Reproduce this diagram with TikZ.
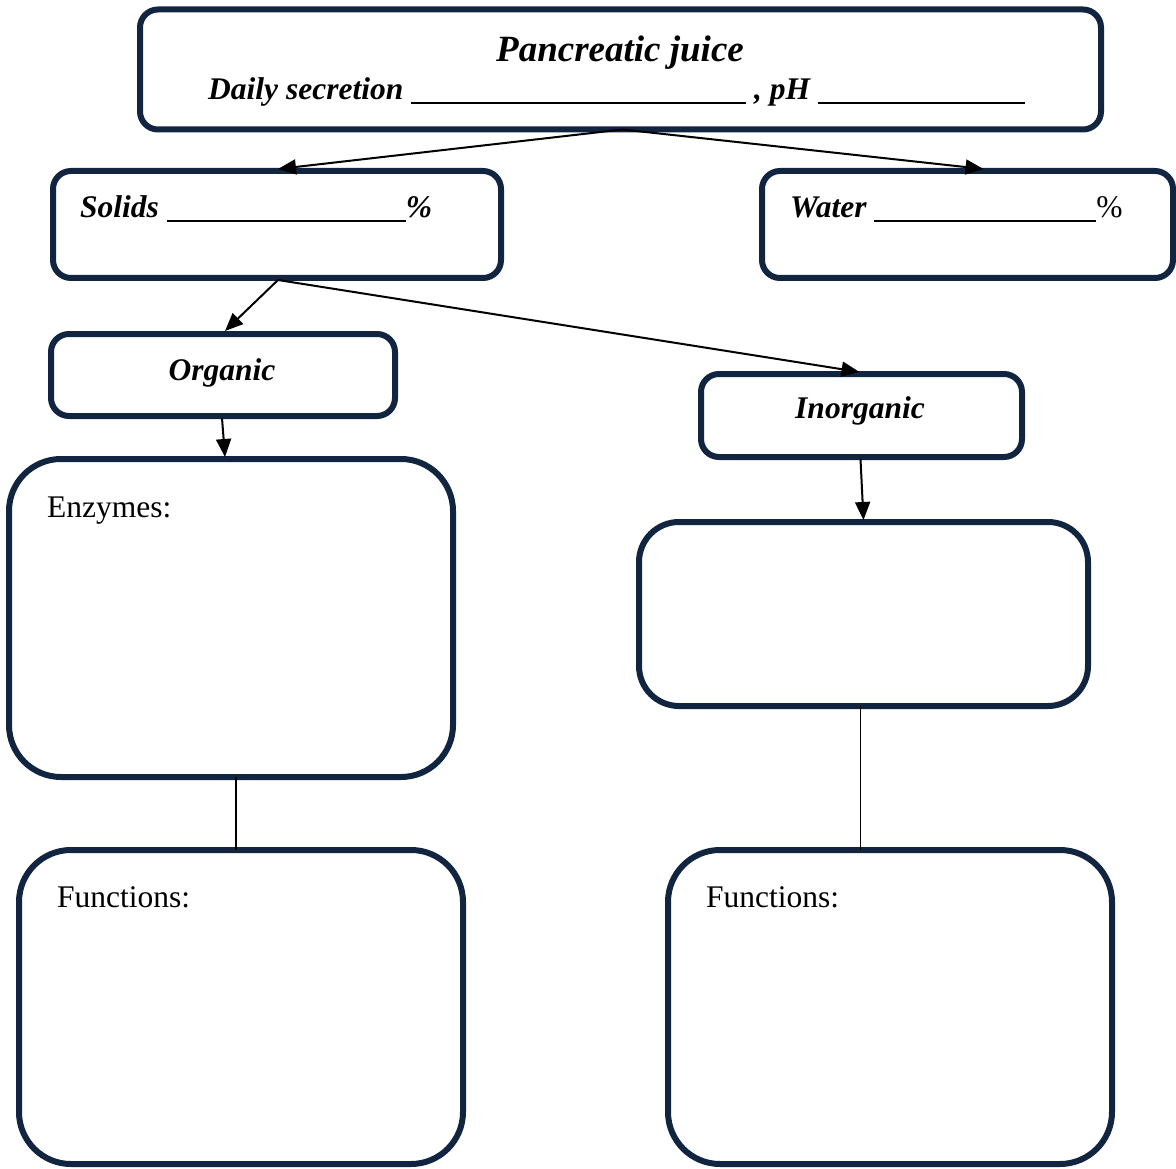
\documentclass[tikz,border=0pt]{standalone}
\usepackage{fontspec}
\setmainfont{Liberation Serif}
\usetikzlibrary{arrows.meta,calc}
\definecolor{navy}{RGB}{18,37,64}
\newcommand{\blankline}[1]{\rule[-3.6pt]{#1pt}{2pt}}
\begin{document}
\begin{tikzpicture}[x=1pt,y=-1pt,
  box/.style={draw=navy,line width=6pt,rectangle,inner sep=0pt,outer sep=0pt,anchor=north west},
  smallbox/.style={box,rounded corners=18pt},
  bigbox/.style={box,rounded corners=52pt},
  arrowline/.style={line width=2pt,-{Triangle[length=18pt,width=15pt]}},
  link/.style={line width=1.5pt},
  body/.style={font=\fontsize{31.5}{38}\selectfont,inner sep=0pt},
  bodybi/.style={font=\fontsize{31.5}{38}\selectfont\bfseries\itshape,inner sep=0pt},
  titlebi/.style={font=\fontsize{37}{44}\selectfont\bfseries\itshape,inner sep=0pt}]
\useasboundingbox (0,0) rectangle (1176,1169);

% boxes
\node[smallbox,minimum width=961pt,minimum height=120pt] (juice) at (140,9.5) {};
\node[smallbox,minimum width=448pt,minimum height=107pt] (solids) at (53,171) {};
\node[smallbox,minimum width=411pt,minimum height=107pt] (water) at (762,171) {};
\node[smallbox,minimum width=344pt,minimum height=82pt] (organic) at (51,334) {};
\node[smallbox,minimum width=321pt,minimum height=83pt] (inorganic) at (701,374) {};
\node[bigbox,minimum width=444pt,minimum height=318pt] (enzymes) at (9,459) {};
\node[box,rounded corners=40pt,minimum width=449pt,minimum height=184pt] (minerals) at (639,522) {};
\node[bigbox,minimum width=444pt,minimum height=314pt] (funcL) at (19,850) {};
\node[bigbox,minimum width=444pt,minimum height=314pt] (funcR) at (668,850) {};

% texts
\node[titlebi,anchor=base] (ttitle) at (620,62) {Pancreatic juice};
\node[bodybi,anchor=base west] (tdaily) at (208,100) {Daily secretion \blankline{335}~, pH \blankline{207}};
\node[bodybi,anchor=base west] (tsolids) at (80,218) {Solids \blankline{239}\%};
\node[bodybi,anchor=base west] (twater) at (790,218) {Water \blankline{222}{\normalfont\%}};
\node[bodybi,anchor=base] (torganic) at (222,380) {Organic};
\node[bodybi,anchor=base] (tinorganic) at (860,418) {Inorganic};
\node[body,anchor=base west] (tenz) at (47,517) {Enzymes:};
\node[body,anchor=base west] (tfuncL) at (57,907) {Functions:};
\node[body,anchor=base west] (tfuncR) at (706,907) {Functions:};

% connectors
\coordinate (jfork) at ($(juice.south)+(2,0)$);
\coordinate (sfork) at ($(solids.south)+(1,2)$);
\draw[arrowline] (jfork) -- ($(solids.north)+(1,-2)$);
\draw[arrowline] (jfork) -- ($(water.north)+(16,-2)$);
\draw[arrowline] (sfork) -- ($(organic.north)+(2,-3)$);
\draw[arrowline] (sfork) -- ($(inorganic.north)+(-2,-2)$);
\draw[arrowline] ($(organic.south)+(-1,2)$) -- ($(enzymes.north)+(-6,-2)$);
\draw[arrowline] ($(inorganic.south)+(-1,2)$) -- ($(minerals.north)+(0,-2)$);

% plain links down to the function boxes
\coordinate (ltop) at ($(enzymes.south)+(5,0)$);
\coordinate (lbot) at (ltop |- funcL.north);
\coordinate (rtop) at ($(minerals.south)+(-3,0)$);
\coordinate (rbot) at (rtop |- funcR.north);
\draw[link] (ltop) -- (lbot);
\draw[link] (rtop) -- (rbot);
\end{tikzpicture}
\end{document}
